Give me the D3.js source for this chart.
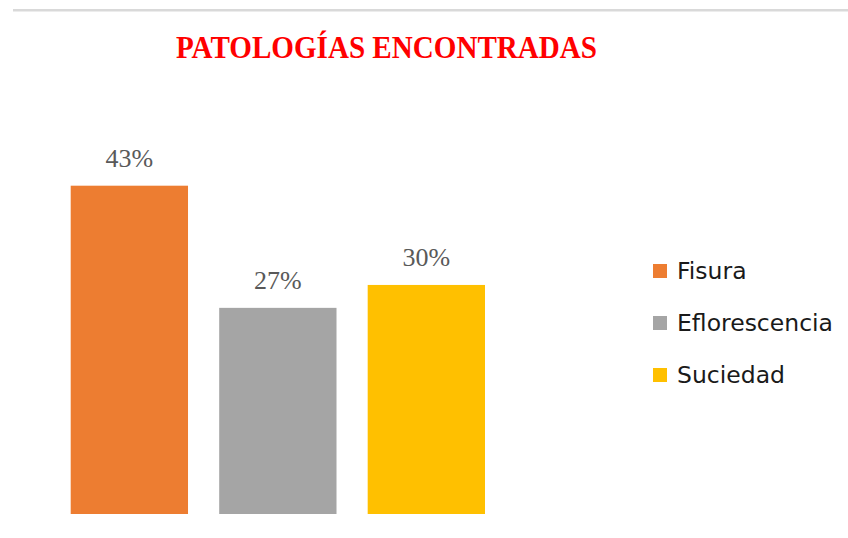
<!DOCTYPE html>
<html>
<head>
<meta charset="utf-8">
<script src="https://cdn.jsdelivr.net/npm/d3@7"></script>
<style>
    body { margin: 0; background: #fff; }
    .title { font-family: "Liberation Serif", "Times New Roman", serif; font-weight: bold; fill: #ff0000; }
    .val { font-family: "Liberation Serif", "Times New Roman", serif; fill: #595959; }
    .leg { font-family: "DejaVu Sans", sans-serif; fill: #1a1a1a; }
</style>
</head>
<body>
<svg width="848" height="538"></svg>
<script>

// data
var categories = ['Fisura', 'Eflorescencia', 'Suciedad'];
var values = [43, 27, 30];
var labels = ['43%', '27%', '30%'];
var colors = ['#ED7D31', '#A5A5A5', '#FFC000'];

var svg = d3.select('svg');

// thin grey rule across the top
svg.append('rect')
    .attr('x', 13).attr('y', 9)
    .attr('width', 835).attr('height', 2.5)
    .attr('fill', '#d9d9d9');

svg.append('text')
    .attr('class', 'title')
    .attr('x', 176).attr('y', 57.5)
    .attr('font-size', 31.5)
    .attr('textLength', 421)
    .attr('lengthAdjust', 'spacingAndGlyphs')
    .text('PATOLOGÍAS ENCONTRADAS');

var x = d3.scaleBand()
    .domain(categories)
    .range([70.7, 485])
    .paddingInner(0.21)
    .paddingOuter(0);

var y = d3.scaleLinear()
    .domain([0, 50])
    .range([514, 514 - 50 * 7.635]);

var color = d3.scaleOrdinal().domain(categories).range(colors);

var rows = categories.map(function(c, i) { return {cat: c, val: values[i], lab: labels[i]}; });

svg.append('g')
    .selectAll('rect')
    .data(rows)
    .enter()
    .append('rect')
    .attr('x', function(d) { return x(d.cat); })
    .attr('y', function(d) { return y(d.val); })
    .attr('width', x.bandwidth())
    .attr('height', function(d) { return y(0) - y(d.val); })
    .attr('fill', function(d) { return color(d.cat); });

svg.append('g')
    .selectAll('text')
    .data(rows)
    .enter()
    .append('text')
    .attr('class', 'val')
    .attr('font-size', 26)
    .attr('text-anchor', 'middle')
    .attr('x', function(d) { return x(d.cat) + x.bandwidth() / 2; })
    .attr('y', function(d) { return y(d.val) - 18.5; })
    .text(function(d) { return d.lab; });

// legend
var leg = svg.append('g')
    .selectAll('g')
    .data(categories)
    .enter()
    .append('g')
    .attr('transform', function(d, i) { return 'translate(653,' + (264 + i * 52) + ')'; });

leg.append('rect')
    .attr('width', 14).attr('height', 14)
    .attr('fill', function(d) { return color(d); });

leg.append('text')
    .attr('class', 'leg')
    .attr('x', 24).attr('y', 15)
    .attr('font-size', 23.5)
    .text(function(d) { return d; });

</script>
</body>
</html>
